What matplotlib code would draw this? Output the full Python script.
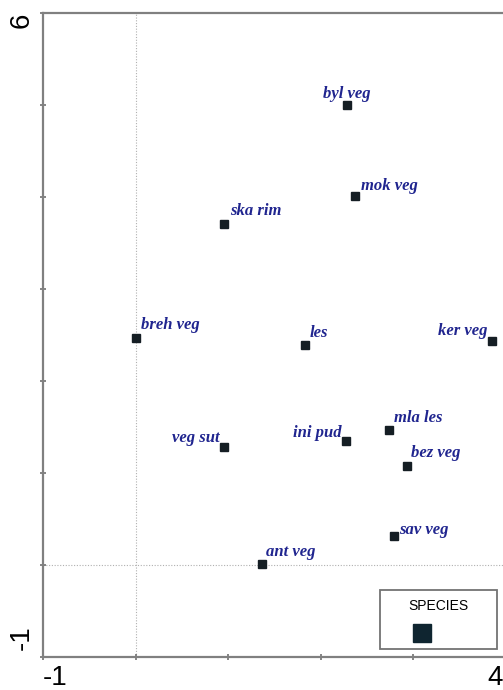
import matplotlib
matplotlib.use("Agg")
import matplotlib.pyplot as plt
from matplotlib.lines import Line2D
from matplotlib.transforms import ScaledTranslation

# species scores (axis 1, axis 2)
species = ["byl veg", "mok veg", "ska rim", "breh veg", "les", "ker veg",
           "mla les", "ini pud", "veg sut", "bez veg", "sav veg", "ant veg"]
ax1 = [2.28, 2.37, 0.96, 0.00, 1.83, 3.85, 2.74, 2.27, 0.95, 2.93, 2.79, 1.36]
ax2 = [5.00, 4.01, 3.71, 2.47, 2.39, 2.43, 1.47, 1.35, 1.28, 1.08, 0.32, 0.01]

# label placement (offset in points, horizontal alignment)
lab_pos = {
    "byl veg": (0, 5, "center"),
    "mok veg": (4, 4.5, "left"),
    "ska rim": (4, 6, "left"),
    "breh veg": (4, 6, "left"),
    "les": (3.5, 5.5, "left"),
    "ker veg": (-3.5, 4.5, "right"),
    "mla les": (3.5, 5.5, "left"),
    "ini pud": (-3, 3, "right"),
    "veg sut": (-3, 3.5, "right"),
    "bez veg": (3, 6.5, "left"),
    "sav veg": (4, 1, "left"),
    "ant veg": (3.5, 6, "left"),
}

W, H = 503, 690
fig = plt.figure(figsize=(W / 100, H / 100), dpi=100)
ax = fig.add_axes([43 / W, (H - 657) / H, (506 - 43) / W, (657 - 13) / H])

ax.set_xlim(-1, 4)
ax.set_ylim(-1, 6)

ax.axvline(0, color="#b0b0b0", lw=0.8, ls=(0, (1, 1.5)), zorder=1)
ax.axhline(0, color="#b0b0b0", lw=0.8, ls=(0, (1, 1.5)), zorder=1)

ax.plot(ax1, ax2, ls="none", marker="s", ms=5.5, color="#151e24", zorder=3)

for name, x, y in zip(species, ax1, ax2):
    dx, dy, ha = lab_pos[name]
    ax.annotate(name, (x, y), xytext=(dx, dy), textcoords="offset points",
                ha=ha, va="baseline", fontsize=12, fontweight="bold",
                fontstyle="italic", family="Liberation Serif", color="#20258f")

for s in ["left", "bottom", "top"]:
    ax.spines[s].set_color("#808080")
    ax.spines[s].set_linewidth(1.6)
ax.spines["right"].set_visible(False)

ax.set_xticks(range(-1, 5))
ax.set_yticks(range(-1, 7))
ax.tick_params(direction="inout", length=5, width=1.2, color="#707070",
               labelsize=20)
ax.tick_params(axis="x", pad=3)
ax.tick_params(axis="y", pad=13)
ax.set_xticklabels(["-1", "", "", "", "", "4"], family="Liberation Sans")
ax.set_yticklabels(["-1", "", "", "", "", "", "", "6"], family="Liberation Sans",
                   rotation=90)
xl = ax.get_xticklabels()
xl[0].set_ha("left")
xl[-1].set_ha("right")
xl[-1].set_transform(xl[-1].get_transform()
                     + ScaledTranslation(-0.03, 0, fig.dpi_scale_trans))
yl = ax.get_yticklabels()
yl[0].set_va("bottom")
yl[0].set_transform(yl[0].get_transform()
                    + ScaledTranslation(0, 0.07, fig.dpi_scale_trans))
yl[-1].set_va("top")
for t in yl:
    t.set_ha("center")

handle = Line2D([], [], ls="none", marker="s", ms=13, color="#0f2530")
leg = ax.legend([handle], [""], title="SPECIES", loc="lower left",
                bbox_to_anchor=(0.7279, 0.0124, 0.2527, 0.09), mode="expand",
                borderaxespad=0, frameon=True, fancybox=False,
                edgecolor="#505050", handlelength=4.9, handletextpad=0,
                borderpad=0.6, labelspacing=1.0,
                title_fontproperties={"family": "Liberation Sans", "size": 10},
                fontsize=10)
leg.get_frame().set_linewidth(1.3)

fig.savefig("out.png", dpi=100)
